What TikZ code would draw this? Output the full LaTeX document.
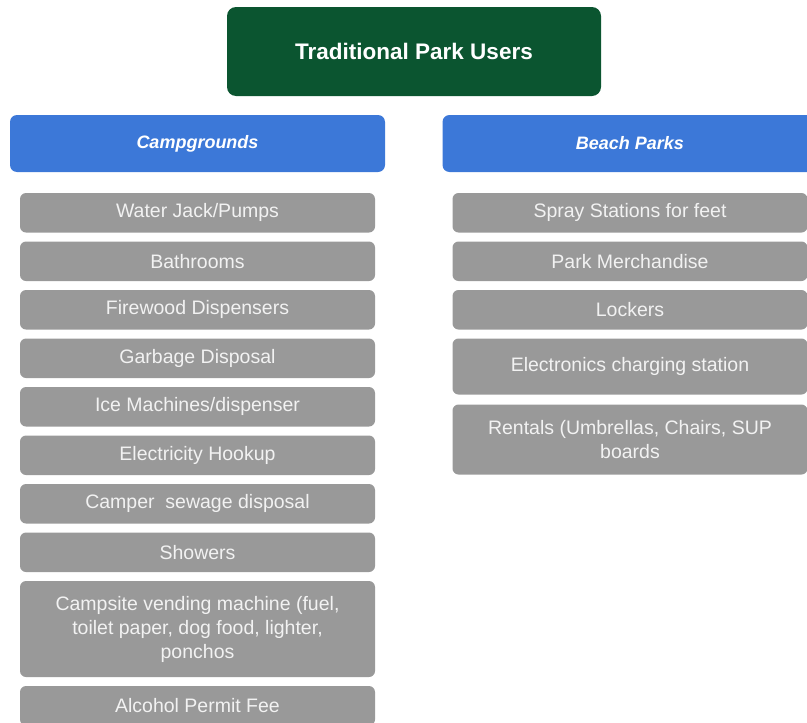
\documentclass[tikz,border=0pt]{standalone}
\usepackage{fontspec}
\setmainfont{Liberation Sans}
\usetikzlibrary{positioning}

\definecolor{parkgreen}{HTML}{0B5530}
\definecolor{headblue}{HTML}{3C78D8}
\definecolor{itemgray}{HTML}{999999}
\definecolor{itemtext}{HTML}{F2F2F2}

\begin{document}
\begin{tikzpicture}[x=1pt,y=-1pt,
    toptitle/.style={fill=parkgreen, rounded corners=9pt, text=white,
        font=\bfseries\fontsize{22.5}{26}\selectfont, outer sep=0pt,
        minimum width=374pt, minimum height=89pt},
    header/.style={fill=headblue, rounded corners=7pt, text=white,
        font=\bfseries\itshape\fontsize{18}{21}\selectfont, outer sep=0pt,
        minimum width=375pt, minimum height=57pt},
    item/.style={fill=itemgray, rounded corners=6pt, text=itemtext,
        font=\fontsize{19.5}{24}\selectfont, align=center,
        inner sep=0pt, outer sep=0pt,
        minimum width=355pt, minimum height=39.5pt},
    tall/.style={minimum height=#1}]
    \useasboundingbox (0,0) rectangle (807,723);

    % top box and the two groups
    \node[toptitle] (users) at (414,51.5) {Traditional Park Users};
    \node[header] (camp) at (197.5,143.5) {Campgrounds};
    \node[header] (beach) at (630,143.5) {Beach Parks};

    % campground items
    \node[item, below=21pt of camp] (water) {Water Jack/Pumps};
    \node[item, below=9pt of water] (bath) {Bathrooms};
    \node[item, below=9pt of bath] (firewood) {Firewood Dispensers};
    \node[item, below=9pt of firewood] (garbage) {Garbage Disposal};
    \node[item, below=9pt of garbage] (ice) {Ice Machines/dispenser};
    \node[item, below=9pt of ice] (power) {Electricity Hookup};
    \node[item, below=9pt of power] (sewage) {Camper\ \ sewage disposal};
    \node[item, below=9pt of sewage] (showers) {Showers};
    \node[item, tall=96pt, below=9pt of showers] (vending)
        {Campsite vending machine (fuel,\\toilet paper, dog food, lighter,\\ponchos};
    \node[item, below=9pt of vending] (alcohol) {Alcohol Permit Fee};

    % beach park items
    \node[item, below=21pt of beach] (spray) {Spray Stations for feet};
    \node[item, below=9pt of spray] (merch) {Park Merchandise};
    \node[item, below=9pt of merch] (lockers) {Lockers};
    \node[item, tall=56pt, below=9pt of lockers] (charging) {Electronics charging station};
    \node[item, tall=70pt, below=10pt of charging] (rentals)
        {Rentals (Umbrellas, Chairs, SUP\\boards};
\end{tikzpicture}
\end{document}
